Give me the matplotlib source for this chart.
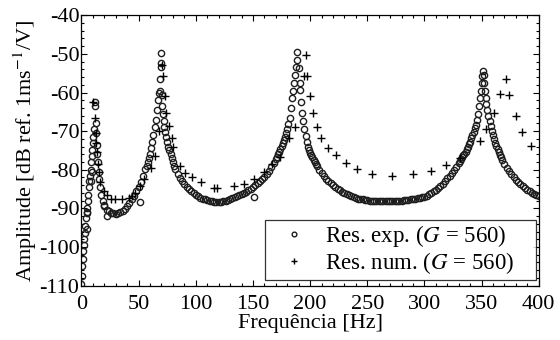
import numpy as np
import matplotlib as mpl
import matplotlib.pyplot as plt
from matplotlib.ticker import MultipleLocator

mpl.rcParams['font.family'] = 'Liberation Serif'
mpl.rcParams['mathtext.fontset'] = 'stix'
mpl.rcParams['axes.unicode_minus'] = False

exp_peak1 = [(0.0, -109.5), (0.3, -107.5), (0.6, -105), (1.0, -103), (1.5, -101),
             (2.0, -99.5), (2.5, -98), (3.0, -96.5), (3.5, -94.5), (4.0, -92.5),
             (4.5, -91), (5.0, -90), (5.5, -88), (6.0, -86.5), (6.5, -84.5),
             (7.0, -83), (7.5, -81.5), (8.0, -80), (8.5, -78), (9.0, -76.5),
             (9.5, -75), (10.0, -73), (10.5, -71.5), (11.0, -69.5), (11.5, -63.5),
             (11.8, -62.5), (12.3, -68), (12.8, -70.5), (13.3, -73.5), (13.8, -76),
             (14.3, -78), (15.0, -80.5), (15.7, -82.5), (16.5, -84.5), (17.5, -86.5),
             (18.5, -88), (19.5, -89), (5.2, -91.2), (5.1, -95.3), (8.5, -83),
             (9.2, -80.5), (21.9, -91.9)]
exp_valley1 = [(20, -89.5), (22, -90.3), (24, -90.8), (26, -91.1), (28, -91.3),
               (30, -91.4), (32, -91.3), (34, -91.0), (36, -90.6), (38, -90.1),
               (40, -89.4), (42, -88.6), (44, -87.7), (46, -86.7), (48, -85.6),
               (50, -84.4), (52, -83.1), (54, -81.6), (56, -79.9), (57, -79.0),
               (58, -78.0), (59, -76.9), (60, -75.8), (61, -74.4), (62, -72.8),
               (63, -71), (64, -69), (65, -67), (66, -64.5), (67, -62), (68, -60),
               (68.5, -59.5), (69.0, -56.5), (51.0, -88.3)]
exp_peak2 = [(69.2, -53.3), (69.4, -52.4), (69.6, -49.7), (70.3, -60.6),
             (70.8, -63.5), (71.3, -65.5), (71.8, -67.5), (72.5, -69), (73.3, -70.3),
             (74, -71.5), (75, -72.8), (76, -74), (77, -75), (78, -76), (79, -77),
             (80, -78), (81, -78.9), (82, -79.7), (84, -81),
             (86, -82.1), (88, -83), (90, -83.8), (92, -84.5), (94, -85.1),
             (96, -85.6), (98, -86.1), (100, -86.5), (102, -86.9), (104, -87.2),
             (106, -87.5), (108, -87.7), (110, -87.9), (112, -88.1), (114, -88.2),
             (116, -88.3), (118, -88.3), (120, -88.3), (122, -88.3), (124, -88.2),
             (126, -88.1), (128, -87.9), (130, -87.7), (132, -87.4), (134, -87.1),
             (136, -86.8), (138, -86.5), (140, -86.3), (142, -86.0), (144, -85.7),
             (146, -85.3), (148, -84.9), (150, -84.5), (152, -84.0), (154, -83.5),
             (156, -82.9), (158, -82.4), (160, -82.0), (162, -81.2), (164, -80.3),
             (166, -79.3), (168, -78.3), (170, -77.2), (171, -76.6), (172, -75.9),
             (173, -75.3), (174, -74.6), (175, -73.9), (176, -73.2), (177, -72.4),
             (178, -71.6), (179, -70.5), (180, -69.4), (181, -68.2),
             (182, -66.5), (183, -64), (184, -61.5), (185, -59.5), (186, -57.5),
             (187, -55.5), (188, -53.5), (188.5, -51.5), (188.7, -49.5),
             (150.8, -87.0)]
exp_peak3 = [(190, -53.7), (191, -57.5), (191.6, -59.3), (192.3, -62.5), (193, -65.3),
             (194, -67.5), (195, -69.5), (196, -71.3), (197, -72.8), (198, -74.0),
             (199, -74.8), (200, -75.6), (201, -76.2), (202, -76.8), (203, -77.4),
             (204, -78.0), (205, -78.6), (206, -79.1), (208, -80.0),
             (210, -80.9), (212, -81.6), (214, -82.3), (216, -82.9), (218, -83.5),
             (220, -84.0), (222, -84.5), (224, -84.9), (226, -85.3), (228, -85.7),
             (230, -86.0), (232, -86.3), (234, -86.6), (236, -86.9), (238, -87.1),
             (240, -87.3), (242, -87.5), (244, -87.6), (246, -87.7), (248, -87.8),
             (250, -87.9), (252, -88.0), (254, -88.1), (256, -88.1), (258, -88.2),
             (260, -88.2), (262, -88.2), (264, -88.2), (266, -88.2), (268, -88.2),
             (270, -88.2), (272, -88.2), (274, -88.2), (276, -88.1), (278, -88.1),
             (280, -88.0), (282, -87.95), (284, -87.9), (286, -87.8), (288, -87.7),
             (290, -87.6), (292, -87.5), (294, -87.4), (296, -87.3), (298, -87.1),
             (300, -87.0), (302, -86.7), (304, -86.4), (306, -86.0), (308, -85.6),
             (310, -85.2), (312, -84.7), (314, -84.2), (316, -83.6), (318, -82.9),
             (320, -82.2), (322, -81.5), (324, -80.8), (326, -80.0), (328, -79.2),
             (330, -78.3), (331, -77.8), (332, -77.3), (333, -76.8), (334, -76.3),
             (335, -75.8), (336, -75.3), (337, -74.7), (338, -74.1), (339, -73.4),
             (340, -72.7), (341, -71.9), (342, -71.1), (343, -70.2), (344, -69.3),
             (345, -68.3), (346, -67), (347, -65.5), (348, -63.5), (348.7, -61.5),
             (349.3, -59.5), (350, -57.5), (350.6, -55.8), (351.2, -54.3)]
exp_peak4 = [(351.8, -55.5), (352.4, -57.5), (353, -59.5), (353.6, -61.3),
             (354.3, -63), (355, -64.5), (356, -66), (357, -67.4), (358, -68.7),
             (359, -70), (360, -71.1), (361, -72.1), (362, -73), (363, -73.9),
             (364, -74.7), (365, -75.4), (366, -76.1), (367, -76.8),
             (368, -77.4), (370, -78.5), (372, -79.5), (374, -80.4), (376, -81.2),
             (378, -81.9), (380, -82.6), (382, -83.2), (384, -83.8), (386, -84.3),
             (388, -84.8), (390, -85.2), (392, -85.6), (394, -86.0), (396, -86.3),
             (398, -86.6), (400, -86.9)]

# numerical response (plus signs)
num_freq = [10.5, 11.5, 12.5, 13.0, 13.5, 14.3, 15.0, 16.6, 19.5, 22.0, 25.5,
            29.7, 35.6, 41.4, 44.0, 47.0, 51.2, 54.5, 60.4, 64.7, 67.5, 70.5,
            71.6, 73.0, 74.1, 76.8, 78.9, 80.3, 86.2, 90.6, 96.4, 104.2, 115.5,
            118.5, 133.3, 142.0, 151.3, 159.5, 166.8, 173.6, 181.4, 187.0,
            194.5, 196.0, 197.3, 199.7, 202.7, 205.6, 209.7, 215.5, 222.3,
            231.0, 241.0, 254.0, 271.4, 290.3, 305.6, 319.0, 331.0, 348.6,
            354.0, 360.7, 366.0, 371.0, 373.8, 380.0, 385.6, 393.4]
num_db = [-62.5, -66.6, -70.5, -73.0, -75.5, -78.5, -80.7, -83.3, -85.5,
          -86.5, -87.5, -87.6, -87.6, -87.4, -86.8, -86.0, -84.2, -82.5,
          -79.5, -76.5, -70.0, -53.0, -55.7, -61.0, -65.3, -68.7, -71.7,
          -74.0, -78.9, -80.8, -82.0, -83.3, -84.6, -84.6, -84.2, -83.7,
          -82.3, -80.6, -78.6, -76.6, -71.7, -69.0, -55.6, -50.3, -55.6,
          -61.0, -65.3, -68.9, -71.7, -74.3, -76.3, -78.2, -79.9, -81.0,
          -81.6, -81.0, -80.3, -78.8, -76.9, -72.6, -69.4, -65.3, -60.3,
          -56.5, -60.6, -66.0, -70.3, -73.9]

exp_pts = np.array(exp_peak1 + exp_valley1 + exp_peak2 + exp_peak3 + exp_peak4)

fig = plt.figure(figsize=(5.6, 3.4), dpi=100)
ax = fig.add_axes([0.1455, 0.16, 0.8165, 0.795])

ax.plot(exp_pts[:, 0], exp_pts[:, 1], 'o', mfc='none', mec='#1e1e1e', ms=4.5,
        mew=1.0, label=r'Res. exp. ($G$ = 560)    ')
ax.plot(num_freq, num_db, '+', color='black', ms=6, mew=1.0,
        label=r'Res. num. ($G$ = 560)    ')

ax.set_xlim(0, 400)
ax.set_ylim(-110, -40)
ax.xaxis.set_major_locator(MultipleLocator(50))
ax.xaxis.set_minor_locator(MultipleLocator(10))
ax.yaxis.set_major_locator(MultipleLocator(10))
ax.yaxis.set_minor_locator(MultipleLocator(2))
ax.tick_params(which='both', direction='in', top=True, right=True,
               labelsize=16, width=0.8)
ax.tick_params(which='major', length=4)
ax.tick_params(axis='x', which='major', pad=7)
ax.tick_params(axis='y', which='major', pad=1.5)
ax.tick_params(which='minor', length=2)
for s in ax.spines.values():
    s.set_linewidth(0.9)

ax.set_xlabel('Frequência [Hz]', fontsize=16, labelpad=0)
ax.set_ylabel(r'Amplitude [dB ref. 1ms$^{-1}$/V]', fontsize=16, labelpad=0)

leg = ax.legend(loc='lower right', bbox_to_anchor=(0.993, 0.022),
                borderaxespad=0, fontsize=16.5, frameon=True, fancybox=False,
                edgecolor='black', handlelength=2.2, handletextpad=0.25,
                borderpad=0.15, labelspacing=0.05, markerscale=0.75)
leg.get_frame().set_linewidth(0.9)

plt.savefig('out.png', dpi=100)
